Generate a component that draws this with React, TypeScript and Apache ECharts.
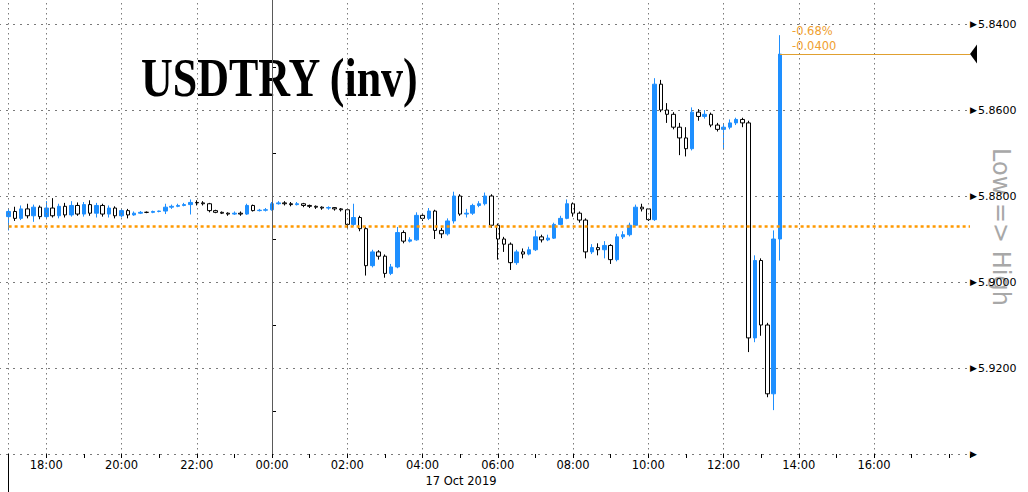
import React, { useEffect, useRef } from 'react';
import * as echarts from 'echarts';

// Time axis in hours relative to 17 Oct 2019 00:00; 10-minute candles from 16 Oct 17:00
const FIRST_CANDLE_HOUR = -7;
const CANDLE_STEP_HOURS = 1 / 6;

// USDTRY candles: [open, close, low, high]
const usdTryCandles: number[][] = [
  [5.8848, 5.8836, 5.8828, 5.8880], [5.8836, 5.8852, 5.8825, 5.8858], [5.8852, 5.8830, 5.8822, 5.8856],
  [5.8830, 5.8846, 5.8818, 5.8852], [5.8846, 5.8826, 5.8820, 5.8860], [5.8826, 5.8848, 5.8822, 5.8854],
  [5.8848, 5.8828, 5.8812, 5.8852], [5.8828, 5.8846, 5.8805, 5.8850], [5.8846, 5.8824, 5.8818, 5.8852],
  [5.8824, 5.8844, 5.8816, 5.8850], [5.8844, 5.8822, 5.8812, 5.8848], [5.8822, 5.8842, 5.8815, 5.8846],
  [5.8842, 5.8820, 5.8814, 5.8848], [5.8820, 5.8840, 5.8810, 5.8846], [5.8840, 5.8822, 5.8816, 5.8850],
  [5.8822, 5.8842, 5.8818, 5.8848], [5.8842, 5.8828, 5.8822, 5.8850], [5.8828, 5.8846, 5.8824, 5.8852],
  [5.8846, 5.8834, 5.8828, 5.8850], [5.8834, 5.8844, 5.8830, 5.8852], [5.8844, 5.8840, 5.8836, 5.8846],
  [5.8840, 5.8838, 5.8835, 5.8842], [5.8838, 5.8838, 5.8836, 5.8840], [5.8838, 5.8836, 5.8834, 5.8840],
  [5.8836, 5.8835, 5.8834, 5.8838], [5.8835, 5.8826, 5.8818, 5.8842], [5.8826, 5.8824, 5.8820, 5.8830],
  [5.8824, 5.8822, 5.8818, 5.8826], [5.8822, 5.8820, 5.8816, 5.8824], [5.8820, 5.8815, 5.8808, 5.8843],
  [5.8815, 5.8816, 5.8810, 5.8822], [5.8816, 5.8818, 5.8812, 5.8822], [5.8818, 5.8834, 5.8816, 5.8838],
  [5.8834, 5.8838, 5.8832, 5.8840], [5.8838, 5.8840, 5.8836, 5.8842], [5.8840, 5.8842, 5.8838, 5.8846],
  [5.8842, 5.8840, 5.8836, 5.8844], [5.8840, 5.8842, 5.8836, 5.8846], [5.8842, 5.8822, 5.8818, 5.8844],
  [5.8822, 5.8834, 5.8820, 5.8836], [5.8834, 5.8833, 5.8830, 5.8836], [5.8833, 5.8832, 5.8828, 5.8836],
  [5.8832, 5.8818, 5.8814, 5.8834], [5.8818, 5.8816, 5.8812, 5.8820], [5.8816, 5.8818, 5.8812, 5.8822],
  [5.8818, 5.8820, 5.8814, 5.8824], [5.8820, 5.8818, 5.8814, 5.8822], [5.8818, 5.8822, 5.8816, 5.8826],
  [5.8822, 5.8824, 5.8820, 5.8828], [5.8824, 5.8826, 5.8822, 5.8830], [5.8826, 5.8828, 5.8824, 5.8832],
  [5.8828, 5.8827, 5.8824, 5.8832], [5.8827, 5.8830, 5.8826, 5.8834], [5.8830, 5.8832, 5.8828, 5.8836],
  [5.8832, 5.8866, 5.8830, 5.8874], [5.8866, 5.8850, 5.8818, 5.8870], [5.8850, 5.8876, 5.8846, 5.8882],
  [5.8876, 5.8962, 5.8872, 5.8985], [5.8962, 5.8930, 5.8925, 5.8966], [5.8930, 5.8940, 5.8926, 5.8948],
  [5.8940, 5.8980, 5.8936, 5.8990], [5.8980, 5.8965, 5.8958, 5.8984], [5.8965, 5.8885, 5.8872, 5.8968],
  [5.8885, 5.8905, 5.8880, 5.8910], [5.8905, 5.8902, 5.8896, 5.8908], [5.8902, 5.8845, 5.8838, 5.8904],
  [5.8845, 5.8852, 5.8840, 5.8858], [5.8852, 5.8835, 5.8828, 5.8856], [5.8835, 5.8880, 5.8832, 5.8900],
  [5.8880, 5.8888, 5.8874, 5.8898], [5.8888, 5.8858, 5.8852, 5.8892], [5.8858, 5.8800, 5.8790, 5.8864],
  [5.8800, 5.8842, 5.8796, 5.8846], [5.8842, 5.8840, 5.8830, 5.8850], [5.8840, 5.8822, 5.8818, 5.8844],
  [5.8822, 5.8818, 5.8812, 5.8826], [5.8818, 5.8800, 5.8792, 5.8822], [5.8800, 5.8868, 5.8796, 5.8874],
  [5.8868, 5.8900, 5.8864, 5.8948], [5.8900, 5.8912, 5.8895, 5.8930], [5.8912, 5.8955, 5.8908, 5.8972],
  [5.8955, 5.8930, 5.8925, 5.8960], [5.8930, 5.8935, 5.8922, 5.8945], [5.8935, 5.8925, 5.8918, 5.8938],
  [5.8925, 5.8895, 5.8880, 5.8928], [5.8895, 5.8902, 5.8890, 5.8908], [5.8902, 5.8898, 5.8890, 5.8905],
  [5.8898, 5.8866, 5.8862, 5.8900], [5.8866, 5.8852, 5.8846, 5.8868], [5.8852, 5.8818, 5.8808, 5.8854],
  [5.8818, 5.8840, 5.8815, 5.8848], [5.8840, 5.8856, 5.8836, 5.8862], [5.8856, 5.8930, 5.8852, 5.8945],
  [5.8930, 5.8920, 5.8912, 5.8935], [5.8920, 5.8925, 5.8910, 5.8938], [5.8925, 5.8915, 5.8905, 5.8945],
  [5.8915, 5.8948, 5.8912, 5.8958], [5.8948, 5.8895, 5.8888, 5.8952], [5.8895, 5.8890, 5.8882, 5.8900],
  [5.8890, 5.8868, 5.8862, 5.8894], [5.8868, 5.8826, 5.8820, 5.8870], [5.8826, 5.8830, 5.8818, 5.8836],
  [5.8830, 5.8855, 5.8828, 5.8858], [5.8855, 5.8540, 5.8526, 5.8858], [5.8540, 5.8600, 5.8530, 5.8605],
  [5.8600, 5.8610, 5.8584, 5.8630], [5.8610, 5.8640, 5.8605, 5.8645], [5.8640, 5.8665, 5.8630, 5.8705],
  [5.8665, 5.8690, 5.8640, 5.8708], [5.8690, 5.8605, 5.8594, 5.8694], [5.8605, 5.8615, 5.8598, 5.8625],
  [5.8615, 5.8610, 5.8600, 5.8620], [5.8610, 5.8635, 5.8606, 5.8640], [5.8635, 5.8645, 5.8630, 5.8650],
  [5.8645, 5.8640, 5.8632, 5.8692], [5.8640, 5.8630, 5.8622, 5.8645], [5.8630, 5.8622, 5.8618, 5.8635],
  [5.8622, 5.8630, 5.8618, 5.8640], [5.8630, 5.9130, 5.8625, 5.9163], [5.9130, 5.8950, 5.8938, 5.9140],
  [5.8950, 5.9100, 5.8945, 5.9125], [5.9100, 5.9260, 5.9095, 5.9268], [5.9260, 5.8900, 5.8880, 5.9298],
  [5.8900, 5.8470, 5.8426, 5.8950],
];

const previousClose = 5.887;
const xAxisMinHour = -8;
const xAxisMaxHour = 18.55;
const xTickIntervalHours = 2;
const xLastLabelHour = 16; // last time label / grid line shown
const gridLineHours = [-6, -4, -2, 0, 2, 4, 6, 8, 10, 12, 14, 16];
const yAxisMin = 5.82;
const yAxisMax = 5.94;
const yTickInterval = 0.02;
const yFirstLabel = 5.84;
const titleText = 'USDTRY (inv)';
const sideLabel = 'Low => High';
const dateLabel = '17 Oct 2019';

// The chart canvas is larger than the page and shifted up/left so that the
// axis minimums (16:00, 5.8200) fall just outside the visible window.
const OFFSET_X = 29;
const OFFSET_Y = 62;
const PAGE_W = 1028;
const PAGE_H = 492;

const FONT = '"DejaVu Sans", "Noto Sans", sans-serif';
const ORANGE = '#F0A030';
const BLUE = '#1E8FFF';
const GRID_DOT = '#7a7a7a';

export default function App() {
  const ref = useRef<HTMLDivElement>(null);

  useEffect(() => {
    document.body.style.margin = '0';
    document.body.style.overflow = 'hidden';
    if (!ref.current) return;
    const chart = echarts.init(ref.current, null, { renderer: 'svg' });

    const seriesData = usdTryCandles.map((c, i) => [
      FIRST_CANDLE_HOUR + i * CANDLE_STEP_HOURS,
      c[0], c[1], c[2], c[3],
    ]);
    const lastIdx = usdTryCandles.length - 1;
    const lastHour = FIRST_CANDLE_HOUR + lastIdx * CANDLE_STEP_HOURS;
    const lastClose = usdTryCandles[lastIdx][1];
    const change = lastClose - previousClose;
    const pct = (change / previousClose) * 100;

    const px = (x: number) => x + OFFSET_X;
    const py = (y: number) => y + OFFSET_Y;

    const gridLines = gridLineHours.map((h) => ({
      xAxis: h,
      lineStyle: { color: GRID_DOT, type: [1.5, 3.5], width: 1 },
      label: { show: false },
    }));

    const option: any = {
      animation: false,
      backgroundColor: '#ffffff',
      grid: { left: 0, right: 58, top: 0, bottom: 38, containLabel: false },
      xAxis: {
        type: 'value',
        min: xAxisMinHour,
        max: xAxisMaxHour,
        interval: xTickIntervalHours,
        axisLine: { show: false },
        axisTick: { show: true, length: 4, lineStyle: { color: '#000' } },
        minorTick: { show: true, splitNumber: 2, length: 4, lineStyle: { color: '#000' } },
        splitLine: { show: false },
        axisLabel: {
          color: '#000',
          fontFamily: FONT,
          fontSize: 11.5,
          margin: 5,
          showMinLabel: false,
          formatter: (v: number) => {
            if (v > xLastLabelHour || v <= xAxisMinHour) return '';
            const h = ((Math.round(v) % 24) + 24) % 24;
            return (h < 10 ? '0' : '') + h + ':00';
          },
        },
      },
      yAxis: {
        type: 'value',
        position: 'right',
        inverse: true,
        min: yAxisMin,
        max: yAxisMax,
        interval: yTickInterval,
        axisLine: { show: true, lineStyle: { color: '#000', width: 1 } },
        axisTick: { show: false },
        minorTick: { show: true, splitNumber: 2, length: 4, lineStyle: { color: '#000' } },
        splitLine: { show: true, lineStyle: { color: GRID_DOT, type: [2, 5], width: 1 } },
        axisLabel: {
          color: '#000',
          fontFamily: FONT,
          fontSize: 11,
          margin: 0,
          formatter: (v: number) => {
            if (v < yFirstLabel - 1e-6) return '';
            if (Math.abs(v - yAxisMax) < 1e-6) return '{tri|▶}';
            return '{tri|▶}' + v.toFixed(4);
          },
          rich: { tri: { fontSize: 9, color: '#000', fontFamily: FONT, padding: [0, 1, 0, 0] } },
        },
      },
      series: [
        {
          type: 'candlestick',
          clip: false,
          barWidth: 4,
          dimensions: ['hour', 'open', 'close', 'lowest', 'highest'],
          encode: { x: 'hour', y: ['open', 'close', 'lowest', 'highest'] },
          data: seriesData,
          itemStyle: {
            color: '#ffffff',
            borderColor: '#000000',
            color0: BLUE,
            borderColor0: BLUE,
            borderWidth: 1,
          },
          markLine: {
            silent: true,
            symbol: 'none',
            animation: false,
            data: [
              ...gridLines,
              [
                { coord: [FIRST_CANDLE_HOUR, previousClose], lineStyle: { color: '#FF9900', type: [3, 3], width: 2.5 }, label: { show: false } },
                { coord: [xAxisMaxHour, previousClose], lineStyle: { color: '#FF9900', type: [3, 3], width: 2.5 }, label: { show: false } },
              ],
              { xAxis: 0, lineStyle: { color: '#5a5a5a', type: 'solid', width: 1 }, label: { show: false } },
              { xAxis: FIRST_CANDLE_HOUR, lineStyle: { color: GRID_DOT, type: [1.5, 3.5], width: 1 }, label: { show: false } },
              [
                {
                  coord: [lastHour, lastClose],
                  lineStyle: { color: '#E0A030', type: 'solid', width: 1 },
                  label: {
                    show: true,
                    position: 'insideStartTop',
                    distance: [12, 1],
                    color: ORANGE,
                    fontFamily: FONT,
                    fontSize: 11.5,
                    lineHeight: 15,
                    align: 'left',
                    formatter: () => pct.toFixed(2) + '%\n' + change.toFixed(4),
                  },
                },
                { coord: [xAxisMaxHour, lastClose], lineStyle: { color: '#E0A030', type: 'solid', width: 1 } },
              ],
              [
                {
                  coord: [lastHour, lastClose],
                  lineStyle: { opacity: 0 },
                  label: {
                    show: true,
                    position: 'end',
                    distance: 5,
                    color: '#ffffff',
                    backgroundColor: '#000000',
                    padding: [2, 3, 2, 3],
                    fontFamily: FONT,
                    fontSize: 11,
                    lineHeight: 15,
                    formatter: () => lastClose.toFixed(4),
                  },
                },
                { coord: [xAxisMaxHour, lastClose], lineStyle: { opacity: 0 } },
              ],
            ],
          },
          markPoint: {
            silent: true,
            animation: false,
            label: { show: false },
            data: [
              {
                coord: [xAxisMaxHour, lastClose],
                symbol: 'triangle',
                symbolSize: [19, 7],
                symbolRotate: 90,
                symbolOffset: [3.5, 0],
                itemStyle: { color: '#000' },
              },
            ],
          },
        },
      ],
      graphic: [
        {
          type: 'text',
          x: px(141),
          y: py(78),
          scaleX: 0.815,
          silent: true,
          style: {
            text: titleText,
            x: 0,
            y: 0,
            font: 'bold 54px "Liberation Serif", "Times New Roman", serif',
            fill: '#000',
            textAlign: 'left',
            textVerticalAlign: 'middle',
            verticalAlign: 'middle',
          },
        },
        {
          type: 'text',
          x: px(1001),
          y: py(227),
          rotation: -Math.PI / 2,
          silent: true,
          style: {
            text: sideLabel,
            x: 0,
            y: 0,
            font: '24px "DejaVu Sans", sans-serif',
            fill: '#a8a8a8',
            textAlign: 'center',
            textVerticalAlign: 'middle',
            verticalAlign: 'middle',
          },
        },
        {
          type: 'text',
          x: px(461),
          y: py(481),
          silent: true,
          style: {
            text: dateLabel,
            x: 0,
            y: 0,
            font: '11.5px "DejaVu Sans", sans-serif',
            fill: '#000',
            textAlign: 'center',
            textVerticalAlign: 'middle',
            verticalAlign: 'middle',
          },
        },
        {
          type: 'line',
          silent: true,
          shape: { x1: px(8.5), y1: py(454), x2: px(8.5), y2: py(492) },
          style: { stroke: '#000', lineWidth: 1 },
        },
      ],
    };

    chart.setOption(option);
    return () => chart.dispose();
  }, []);

  return (
    <div style={{ position: 'relative', width: PAGE_W, height: PAGE_H, overflow: 'hidden' }}>
      <div
        ref={ref}
        style={{
          position: 'absolute',
          left: -OFFSET_X,
          top: -OFFSET_Y,
          width: PAGE_W + OFFSET_X,
          height: PAGE_H + OFFSET_Y,
        }}
      />
    </div>
  );
}
